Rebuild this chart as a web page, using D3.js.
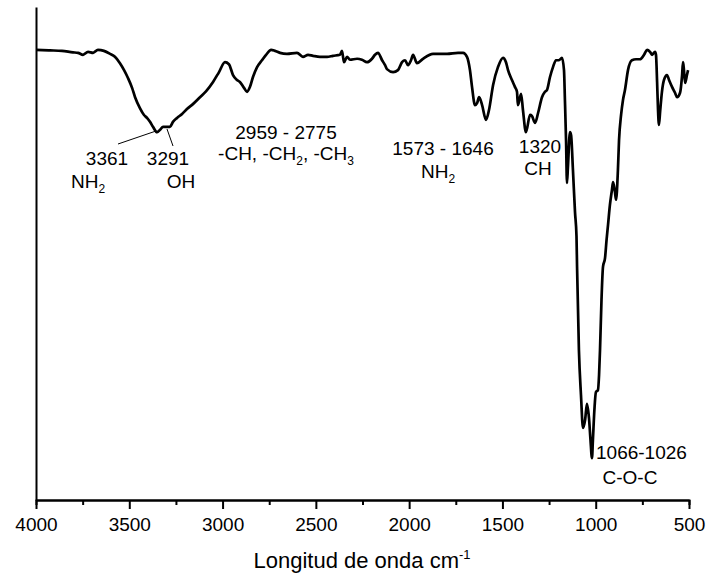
<!DOCTYPE html>
<html lang="es">
<head>
<meta charset="utf-8" />
<title>FTIR</title>
<script src="https://cdn.jsdelivr.net/npm/d3@7"></script>
<style>
  body { margin: 0; background: #fff; }
  svg text { font-family: "Liberation Sans", Arial, sans-serif; fill: #000; }
  .axis path, .axis line { stroke: #000; stroke-width: 2px; }
  .axis text { font-size: 19px; }
  .lbl { font-size: 19px; }
  .sub { font-size: 12px; }
</style>
</head>
<body>
<div id="chart"></div>
<script>
var width = 708, height = 582;

// spectrum (wavenumber cm-1, transmittance a.u.)
var wavenumber = [4000, 3925, 3861, 3802, 3775, 3748, 3721, 3694, 3668, 3636, 3603, 3577, 3550, 3528, 3507, 3485,
  3469, 3443, 3421, 3405, 3389, 3373, 3351, 3335, 3319, 3298, 3282, 3266, 3244, 3217, 3191, 3159, 3121, 3089,
  3051, 3019, 2987, 2966, 2944, 2923, 2907, 2885, 2869, 2853, 2837, 2815, 2789, 2767, 2740, 2719, 2692, 2655,
  2601, 2569, 2542, 2515, 2478, 2440, 2408, 2371, 2360, 2349, 2333, 2317, 2279, 2253, 2226, 2199, 2183, 2167,
  2145, 2129, 2119, 2086, 2060, 2038, 2022, 2006, 1990, 1979, 1958, 1926, 1872, 1797, 1738, 1711, 1690, 1674,
  1663, 1647, 1636, 1625, 1609, 1588, 1572, 1550, 1524, 1497, 1481, 1470, 1449, 1433, 1422, 1417, 1400, 1390,
  1374, 1352, 1342, 1325, 1309, 1288, 1272, 1261, 1245, 1229, 1213, 1197, 1181, 1170, 1165, 1159, 1154, 1149,
  1138, 1132, 1122, 1111, 1103, 1100, 1090, 1079, 1068, 1057, 1047, 1036, 1028, 1020, 1015, 1007, 999, 988,
  982, 977, 969, 961, 950, 942, 934, 924, 913, 907, 897, 891, 881, 875, 864, 854, 843, 827, 806, 784, 763,
  741, 725, 709, 698, 682, 677, 671, 666, 661, 655, 645, 634, 618, 607, 591, 575, 564, 548, 537, 532, 527,
  521, 511, 505];
var transmittance = [91.3, 91.2, 91.1, 90.8, 90.7, 90.3, 90.9, 90.7, 91.3, 91.1, 90.5, 89.9, 88.6, 87.2, 85.6, 83.6,
  81.7, 79.5, 78.1, 77.5, 76.7, 75.7, 74.6, 75.1, 75.7, 75.7, 75.7, 76.7, 77.5, 78.3, 79.3, 80.3, 81.7, 82.9,
  84.8, 86.8, 88.8, 88.4, 86.2, 85.2, 84.8, 83.6, 82.8, 83.8, 85.8, 87.8, 89.2, 90.3, 91.3, 91.1, 90.7, 90.5,
  90.7, 89.9, 90.3, 90.1, 89.9, 89.9, 90.1, 90.3, 91.1, 88.8, 89.9, 89.3, 89.5, 89.3, 88.8, 89.5, 90.3, 90.7,
  89.2, 88.2, 87.4, 86.8, 87.2, 88.8, 89.2, 88.2, 89.2, 90.3, 88.6, 89.5, 90.5, 90.5, 90.7, 90.7, 89.9, 87.2,
  83.8, 80.1, 80.5, 81.7, 80.1, 77.1, 79.1, 84.2, 87.8, 89.7, 88.8, 87.2, 85.2, 83.8, 82.8, 80.1, 82.4, 79.1,
  74.6, 78.1, 77.9, 76.5, 78.5, 81.7, 82.8, 83.2, 85.8, 87.8, 89.2, 89.2, 89.7, 87.2, 81.1, 73.0, 64.3, 67.5,
  74.6, 74.0, 66.9, 58.4, 53.5, 47.3, 30.4, 21.3, 14.6, 16.2, 19.5, 16.6, 12.2, 8.5, 12.2, 18.3, 21.9, 22.3,
  25.4, 30.4, 40.6, 47.3, 49.1, 52.7, 55.8, 59.8, 62.9, 64.5, 62.5, 60.9, 66.9, 73.0, 78.1, 81.1, 83.2, 87.2,
  89.2, 89.4, 89.4, 90.3, 91.3, 90.9, 90.3, 90.9, 90.3, 84.8, 79.1, 76.1, 78.7, 82.8, 85.2, 86.2, 85.2, 83.8,
  82.6, 81.7, 82.6, 86.2, 88.8, 87.2, 84.6, 86.2, 87.2];

var majorTicks = [4000, 3500, 3000, 2500, 2000, 1500, 1000, 500];
var minorTicks = [3750, 3250, 2750, 2250, 1750, 1250, 750];

var svg = d3.select("#chart").append("svg")
    .attr("width", width)
    .attr("height", height);

var x = d3.scaleLinear().domain([4000, 500]).range([36, 689]);
var y = d3.scaleLinear().domain([0, 100]).range([500, 7]);

// axes
svg.append("g")
    .attr("class", "axis")
    .attr("transform", "translate(0,500)")
    .call(d3.axisBottom(x).tickValues(minorTicks).tickSize(5).tickFormat(""));

svg.append("g")
    .attr("class", "axis")
    .attr("transform", "translate(0,500)")
    .call(d3.axisBottom(x).tickValues(majorTicks).tickSize(9).tickSizeOuter(0).tickPadding(9).tickFormat(d3.format("d")));

svg.append("g")
    .attr("class", "axis")
    .attr("transform", "translate(36,0)")
    .call(d3.axisLeft(y).tickValues([]).tickSizeOuter(0));

// spectrum
var pts = wavenumber.map(function(d, i) { return [d, transmittance[i]]; });
var line = d3.line()
    .curve(d3.curveMonotoneX)
    .x(function(d) { return x(d[0]); })
    .y(function(d) { return y(d[1]); });

svg.append("path")
    .datum(pts)
    .attr("d", line)
    .attr("fill", "none")
    .attr("stroke", "#000")
    .attr("stroke-width", 2.7)
    .attr("stroke-linejoin", "round");

// x title
var title = svg.append("text")
    .attr("x", 362)
    .attr("y", 568)
    .attr("text-anchor", "middle")
    .style("font-size", "22px");
title.append("tspan").text("Longitud de onda cm");
title.append("tspan").attr("dy", -9).style("font-size", "13px").text("-1");

// annotations; {s: "2"} marks a subscript piece
function label(px, py, parts, anchor) {
  var t = svg.append("text").attr("class", "lbl")
      .attr("x", px).attr("y", py)
      .attr("text-anchor", anchor || "middle");
  var down = false;
  parts.forEach(function(p) {
    if (typeof p === "object") {
      t.append("tspan").attr("class", "sub").attr("dy", 5).text(p.s);
      down = true;
    } else {
      t.append("tspan").attr("dy", down ? -5 : 0).text(p);
      down = false;
    }
  });
}

label(107, 165, ["3361"]);
label(88, 188, ["NH", {s: "2"}]);
label(168, 165, ["3291"]);
label(181, 188, ["OH"]);
label(286, 139, ["2959 - 2775"]);
label(286, 160, ["-CH, -CH", {s: "2"}, ", -CH", {s: "3"}]);
label(443, 155, ["1573 - 1646"]);
label(438, 178, ["NH", {s: "2"}]);
label(540, 153, ["1320"]);
label(538, 175, ["CH"]);
label(596, 459, ["1066-1026"], "start");
label(630, 484, ["C-O-C"]);

svg.append("line").attr("x1", 118).attr("y1", 144).attr("x2", 156).attr("y2", 131)
    .attr("stroke", "#000").attr("stroke-width", 1);
svg.append("line").attr("x1", 167).attr("y1", 129).attr("x2", 173).attr("y2", 146)
    .attr("stroke", "#000").attr("stroke-width", 1);
</script>
</body>
</html>
